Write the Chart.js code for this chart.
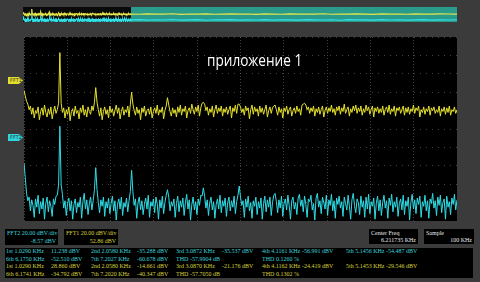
<!DOCTYPE html>
<html>
<head>
<meta charset="utf-8">
<script src="https://cdn.jsdelivr.net/npm/chart.js@4.4.1/dist/chart.umd.min.js"></script>
<style>
  html, body { margin: 0; padding: 0; }
  body { width: 480px; height: 282px; background: #3b3b3b; position: relative; overflow: hidden; font-family: "Liberation Serif", serif; }
  .abs { position: absolute; }
  #ovBlack { left: 23px; top: 7px; width: 108px; height: 15px; background: #0a0a0a; }
  #ovTeal { left: 131px; top: 7px; width: 326px; height: 15px; background: #2a9b8b; }
  #ovWrap { left: 23px; top: 7px; width: 434px; height: 15px; }
  #plotBg { left: 24px; top: 37px; width: 433px; height: 184px; background: #000; }
  #plotWrap { left: 24px; top: 37px; width: 433px; height: 184px; }
  .tag { width: 15px; height: 7px; font: 5px/7px "DejaVu Sans", sans-serif; color: #333; padding-left: 2px; box-sizing: border-box;
         clip-path: polygon(0 0, 72% 0, 100% 50%, 72% 100%, 0 100%); }
  #title { left: 207px; top: 49px; color: #fff; font: 16px "Open Sans", sans-serif; white-space: nowrap;
           transform: scaleX(0.85); transform-origin: 0 0; }
  .box { background: #000; }
  .t { position: absolute; font-size: 6px; line-height: 7px; white-space: nowrap; }
  .c { color: #3fd3dc; }
  .y { color: #d9d23c; }
  .w { color: #e8e8e8; }
</style>
</head>
<body>
<div id="ovBlack" class="abs"></div>
<div id="ovTeal" class="abs"></div>
<div id="ovWrap" class="abs"><canvas id="overview"></canvas></div>
<div id="plotBg" class="abs"></div>
<div id="plotWrap" class="abs"><canvas id="fft"></canvas></div>
<div class="abs tag" style="left:8px;top:77px;background:#e3df2a;">FFT1</div>
<div class="abs tag" style="left:8px;top:134px;background:#2fd6df;">FFT2</div>
<div id="title" class="abs">приложение 1</div>

<div class="abs box" style="left:5px;top:229px;width:53px;height:16px;"></div>
<div class="abs box" style="left:64px;top:229px;width:54px;height:16px;"></div>
<div class="abs box" style="left:369px;top:229px;width:49px;height:15px;"></div>
<div class="abs box" style="left:424px;top:229px;width:50px;height:15px;"></div>
<div class="abs box" style="left:5px;top:248px;width:468px;height:30px;"></div>
<div id="texts"></div>

<script>
// frequency span of the display (kHz) and number of FFT bins drawn
var spanKHz = 12.4235
var binCount = 339

// FFT1 (yellow) magnitudes, dBV
var fft1 = [-12, -18, -24, -27, -33, -29, -38, -31, -42, -34, -37, -30, -44, -35, -31, -39, -28, -36, -41, -32,
  -38, -30, -43, -35, -29, -37, -33, -26, 29, -26, -36, -31, -42, -33, -38, -30, -45, -35, -32, -40,
  -29, -37, -34, -43, -31, -36, -28, -39, -33, -41, -30, -35, -38, -29, -34, -25, -9, -25, -33, -40,
  -31, -44, -35, -30, -38, -33, -42, -29, -36, -32, -40, -34, -28, -37, -31, -43, -35, -30, -39, -33,
  -36, -29, -41, -27, -14, -27, -34, -39, -30, -37, -33, -44, -31, -36, -29, -40, -34, -32, -38, -30,
  -42, -35, -31, -37, -28, -39, -33, -36, -30, -43, -34, -29, -20, -28, -35, -40, -31, -37, -33, -41,
  -30, -36, -28, -39, -32, -35, -29, -42, -34, -31, -37, -27, -33, -38, -30, -35, -28, -40, -31, -26,
  -25, -27, -34, -30, -39, -32, -36, -29, -41, -33, -28, -37, -31, -35, -29, -40, -32, -36, -30, -38,
  -33, -29, -42, -31, -35, -28, -37, -27, -27, -30, -36, -32, -39, -29, -34, -31, -43, -33, -28, -38,
  -30, -35, -32, -40, -29, -36, -31, -38, -33, -28, -41, -34, -30, -37, -31, -29, -28, -33, -39, -30,
  -36, -32, -42, -31, -35, -29, -38, -33, -30, -40, -34, -31, -37, -29, -35, -32, -39, -28, -27, -26,
  -28, -33, -30, -37, -31, -35, -29, -40, -32, -36, -30, -38, -33, -29, -41, -34, -30, -37, -31, -35,
  -28, -36, -32, -39, -30, -34, -29, -38, -31, -35, -27, -37, -33, -30, -40, -32, -36, -29, -34, -28,
  -37, -31, -35, -29, -39, -32, -36, -28, -34, -30, -38, -33, -29, -41, -31, -35, -30, -37, -32, -36,
  -29, -39, -33, -30, -36, -28, -38, -32, -35, -29, -40, -31, -34, -30, -37, -33, -29, -39, -31, -36,
  -30, -38, -32, -35, -28, -37, -31, -34, -29, -41, -33, -36, -30, -38, -32, -35, -29, -39, -31, -34,
  -30, -37, -33, -36, -29, -40, -32, -35, -30, -38, -31, -36, -29, -39, -33, -35, -30, -37, -33]

// FFT2 (cyan) magnitudes, dBV
var fft2 = [-29, -45, -62, -70, -66, -81, -69, -75, -88, -68, -77, -64, -84, -71, -79, -67, -90, -73, -66, -82,
  -70, -76, -87, -68, -74, -65, -64, -53, 11, -52, -63, -78, -70, -86, -73, -67, -81, -70, -90, -74,
  -68, -83, -72, -77, -66, -89, -71, -62, -79, -69, -85, -73, -66, -80, -70, -58, -34, -58, -72, -83,
  -69, -76, -66, -87, -71, -78, -67, -84, -73, -65, -81, -70, -91, -74, -68, -79, -66, -86, -72, -77,
  -67, -82, -70, -60, -37, -60, -75, -68, -89, -72, -66, -80, -70, -85, -74, -67, -79, -64, -88, -71,
  -76, -68, -83, -66, -73, -90, -69, -78, -65, -84, -72, -64, -58, -66, -81, -71, -76, -68, -88, -73,
  -65, -82, -70, -77, -67, -86, -72, -63, -79, -69, -91, -74, -66, -80, -71, -85, -68, -75, -64, -65,
  -56, -65, -78, -69, -86, -72, -66, -80, -71, -89, -74, -68, -79, -64, -83, -70, -76, -67, -87, -72,
  -66, -81, -70, -77, -65, -84, -71, -64, -54, -66, -75, -70, -88, -68, -77, -65, -81, -72, -89, -70,
  -76, -66, -85, -71, -78, -67, -90, -73, -65, -82, -69, -77, -66, -86, -72, -64, -62, -71, -83, -69,
  -78, -65, -87, -73, -68, -80, -64, -75, -90, -70, -66, -79, -72, -85, -67, -63, -76, -69, -82, -65,
  -74, -88, -68, -71, -64, -80, -73, -91, -67, -62, -77, -70, -84, -66, -72, -79, -64, -86, -69, -75,
  -63, -81, -70, -89, -67, -74, -65, -78, -71, -87, -66, -73, -80, -64, -76, -90, -69, -62, -75, -83,
  -68, -72, -85, -65, -77, -70, -88, -66, -79, -63, -84, -71, -76, -67, -90, -73, -65, -81, -69, -86,
  -72, -64, -78, -70, -89, -67, -75, -63, -82, -71, -77, -66, -87, -73, -68, -80, -64, -85, -70, -76,
  -66, -91, -72, -63, -79, -69, -84, -67, -74, -65, -88, -71, -76, -64, -81, -70, -89, -68, -73, -62,
  -78, -70, -86, -66, -75, -64, -83, -72, -68, -90, -65, -77, -71, -85, -67, -74, -63, -80, -69]

// overview strip: the rest of the 50 kHz acquisition, coarse
var overviewSpanKHz = 50
var rest1 = [-33, -36, -31, -35, -34, -30, -37, -33, -35, -32, -36, -34, -31, -35, -33, -37, -32, -34, -36, -31,
  -35, -33, -34, -30, -36, -33, -35, -32, -34, -37, -31, -35, -33, -36, -32, -34, -35, -31, -33, -35]
var rest2 = [-74, -70, -77, -72, -75, -69, -76, -73, -71, -78, -72, -74, -70, -76, -73, -75, -71, -77, -72, -74,
  -76, -70, -73, -75, -72, -78, -71, -74, -73, -76, -70, -75, -72, -77, -74, -71, -76, -73, -75, -72]

var measC = [
  ['1st 1.0290 KHz', '11.238 dBV', '2nd 2.0580 KHz', '-35.288 dBV', '3rd 3.0872 KHz', '-35.537 dBV', '4th 4.1161 KHz', '-56.991 dBV', '5th 5.1456 KHz', '-54.487 dBV'],
  ['6th 6.1750 KHz', '-52.510 dBV', '7th 7.2027 KHz', '-60.678 dBV', 'THD', '-57.9904 dB', 'THD', '0.1260 %', '', '']
]
var measY = [
  ['1st 1.0290 KHz', '28.860 dBV', '2nd 2.0580 KHz', '-14.661 dBV', '3rd 3.0870 KHz', '-21.176 dBV', '4th 4.1162 KHz', '-24.419 dBV', '5th 5.1453 KHz', '-29.546 dBV'],
  ['6th 6.1741 KHz', '-34.792 dBV', '7th 7.2020 KHz', '-40.347 dBV', 'THD', '-57.7050 dB', 'THD', '0.1302 %', '', '']
]

// ---- text panels ----
var texts = document.getElementById('texts')
function addText(str, x, y, cls, right) {
  var d = document.createElement('div')
  d.className = 't ' + cls
  d.textContent = str
  d.style.top = y + 'px'
  if (right) {
    d.style.right = (480 - x) + 'px'
  } else {
    d.style.left = x + 'px'
  }
  texts.appendChild(d)
}
addText('FFT2  20.00 dBV/div', 7, 230, 'c')
addText('-8.57 dBV', 56, 238, 'c', true)
addText('FFT1  20.00 dBV/div', 66, 230, 'y')
addText('52.86 dBV', 116, 238, 'y', true)
addText('Center Freq', 371, 230, 'w')
addText('6.211735 KHz', 416, 237, 'w', true)
addText('Sample', 426, 230, 'w')
addText('100 KHz', 472, 237, 'w', true)

var labelX = [6, 91, 176, 262, 346]
var valueX = [51, 137, 222, 302, 386]
var thdValueX = [0, 0, 190, 276, 0]
var rows = [[measC[0], 'c'], [measC[1], 'c'], [measY[0], 'y'], [measY[1], 'y']]
for (var r = 0; r < rows.length; r++) {
  var cells = rows[r][0]
  var rowTop = 248 + r * 7.5
  for (var k = 0; k < 5; k++) {
    if (cells[2 * k] == '') continue
    addText(cells[2 * k], labelX[k], rowTop, rows[r][1])
    var vx = cells[2 * k] == 'THD' ? thdValueX[k] : valueX[k]
    addText(cells[2 * k + 1], vx, rowTop, rows[r][1])
  }
}

// ---- chart data ----
var binKHz = spanKHz / (binCount - 1)
var pts1 = []
var pts2 = []
for (var i = 0; i < binCount; i++) {
  pts1.push({ x: i * binKHz, y: fft1[i] })
  pts2.push({ x: i * binKHz, y: fft2[i] })
}
var restStep = (overviewSpanKHz - spanKHz) / (rest1.length - 1)
var restPts1 = []
var restPts2 = []
for (var j = 0; j < rest1.length; j++) {
  restPts1.push({ x: spanKHz + j * restStep, y: rest1[j] })
  restPts2.push({ x: spanKHz + j * restStep, y: rest2[j] })
}

var yellow = '#e6e22c'
var cyan = '#2fdde6'

new Chart(document.getElementById('fft'), {
  type: 'line',
  data: {
    datasets: [
      { data: pts2, yAxisID: 'yC', borderColor: cyan, borderWidth: 1, pointRadius: 0, tension: 0 },
      { data: pts1, yAxisID: 'yY', borderColor: yellow, borderWidth: 1, pointRadius: 0, tension: 0 }
    ]
  },
  options: {
    responsive: true,
    maintainAspectRatio: false,
    animation: false,
    events: [],
    layout: { padding: 0 },
    plugins: { legend: { display: false }, tooltip: { enabled: false } },
    scales: {
      x: {
        type: 'linear', min: 0, max: spanKHz,
        ticks: { display: false, stepSize: spanKHz / 10, count: 11 },
        grid: { color: 'rgba(110,110,110,0.6)', drawTicks: false, lineWidth: 1 },
        border: { display: false, dash: [1, 2] }
      },
      yY: {
        type: 'linear', position: 'left', min: -154, max: 46,
        ticks: { display: false, stepSize: 20 },
        grid: { color: 'rgba(110,110,110,0.6)', drawTicks: false, lineWidth: 1 },
        border: { display: false, dash: [1, 5] }
      },
      yC: { type: 'linear', display: false, min: -92, max: 108 }
    }
  }
});

new Chart(document.getElementById('overview'), {
  type: 'line',
  data: {
    datasets: [
      { data: pts1.concat(restPts1), yAxisID: 'oY', borderColor: '#e8e64a', borderWidth: 1.2, pointRadius: 0, tension: 0 },
      { data: pts2.concat(restPts2), yAxisID: 'oC', borderColor: '#34e2ea', borderWidth: 1.2, pointRadius: 0, tension: 0 }
    ]
  },
  options: {
    responsive: true,
    maintainAspectRatio: false,
    animation: false,
    events: [],
    layout: { padding: 0 },
    plugins: { legend: { display: false }, tooltip: { enabled: false } },
    scales: {
      x: { type: 'linear', display: false, min: 0, max: overviewSpanKHz },
      oY: { type: 'linear', display: false, min: -132, max: 54 },
      oC: { type: 'linear', display: false, min: -100, max: 86 }
    }
  }
});
</script>
</body>
</html>
